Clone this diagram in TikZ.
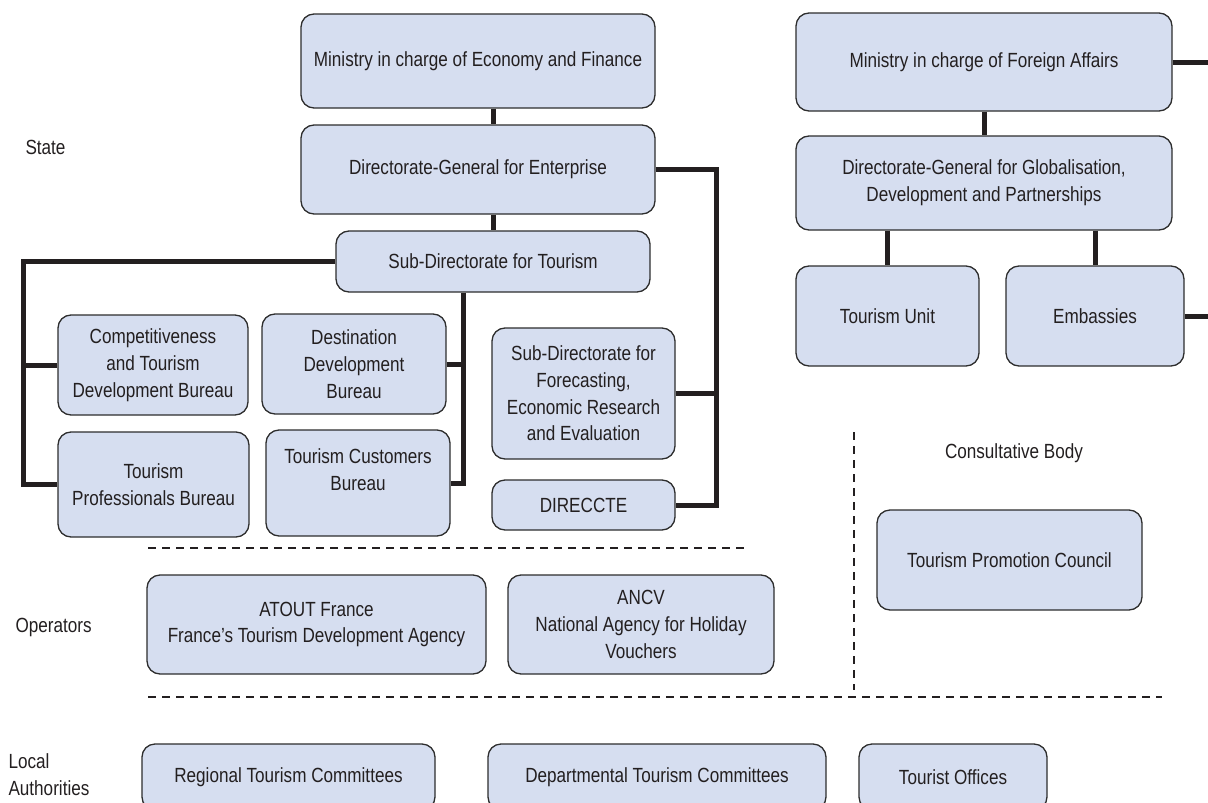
\documentclass[tikz,border=0pt]{standalone}
\usepackage{fontspec}
\setmainfont[FakeStretch=0.835]{Liberation Sans}
\usetikzlibrary{calc}
\definecolor{boxblue}{RGB}{214,222,240}
\definecolor{boxedge}{RGB}{45,45,45}
\definecolor{inkgrey}{RGB}{35,31,32}

\begin{document}
\begin{tikzpicture}[x=1pt,y=-1pt,font=\fontsize{20.5}{26.7}\selectfont,text=inkgrey,
  unit/.style={draw=boxedge,line width=1.3pt,fill=boxblue,rounded corners=13pt,align=center,inner sep=0pt},
  link/.style={line width=5pt,draw=inkgrey},
  sep/.style={line width=2pt,draw=inkgrey,dash pattern=on 8pt off 6pt}]
\clip (0,0) rectangle (1208,803);
% row labels
\node[anchor=west] (lstate) at (22,147) {State};
\node[anchor=west] (lops) at (12,627) {Operators};
\node[anchor=west,align=left] (lloc) at (5,775) {Local\\Authorities};
\node (lcons) at (1014,453) {Consultative Body};
% economy side
\node[unit,minimum width=354,minimum height=94] (econ) at (478,61) {Ministry in charge of Economy and Finance};
\node[unit,minimum width=354,minimum height=89] (dge) at (478,169.5) {Directorate-General for Enterprise};
\node[unit,minimum width=314,minimum height=61] (sdt) at (493,261.5) {Sub-Directorate for Tourism};
\node[unit,minimum width=190,minimum height=100] (comp) at (153,365) {Competitiveness\\and Tourism\\Development Bureau};
\node[unit,minimum width=184,minimum height=100] (dest) at (354,364) {Destination\\Development\\Bureau};
\node[unit,minimum width=191,minimum height=105] (prof) at (153.5,484.5) {Tourism\\Professionals Bureau};
\node[unit,minimum width=184,minimum height=106] (cust) at (358,483) {Tourism Customers\\Bureau\\\mbox{}};
\node[unit,minimum width=183,minimum height=131] (fore) at (583.5,393.5) {Sub-Directorate for\\Forecasting,\\Economic Research\\and Evaluation};
\node[unit,minimum width=183,minimum height=50] (dir) at (583.5,505) {DIRECCTE};
% foreign affairs side
\node[unit,minimum width=376,minimum height=98] (fam) at (984,62) {Ministry in charge of Foreign Affairs};
\node[unit,minimum width=376,minimum height=94] (dgg) at (984,183) {Directorate-General for Globalisation,\\Development and Partnerships};
\node[unit,minimum width=183,minimum height=100] (tu) at (887.5,316) {Tourism Unit};
\node[unit,minimum width=178,minimum height=100] (emb) at (1095,316) {Embassies};
\node[unit,minimum width=265,minimum height=100] (tpc) at (1009.5,560) {Tourism Promotion Council};
% operators
\node[unit,minimum width=339,minimum height=99] (atout) at (316.5,624.5) {ATOUT France\\France's Tourism Development Agency};
\node[unit,minimum width=266,minimum height=99] (ancv) at (641,624.5) {ANCV\\National Agency for Holiday\\Vouchers};
% local authorities
\node[unit,minimum width=293,minimum height=66] (reg) at (288.5,777) {Regional Tourism Committees};
\node[unit,minimum width=338,minimum height=66] (dep) at (657,777) {Departmental Tourism Committees};
\node[unit,minimum width=188,minimum height=66] (tof) at (953,777) {Tourist Offices};

% buses
\coordinate (lbus) at (23,0);
\coordinate (cbus) at (463,0);
\coordinate (rbus) at (716,0);
\coordinate (famend) at (1212,62);
\coordinate (embend) at (1212,316);

\draw[link] (econ.south -| sdt.north) -- (dge.north -| sdt.north);
\draw[link] (dge.south -| sdt.north) -- (sdt.north);
\draw[link] (sdt.west) -| (lbus |- prof.west) -- (prof.west);
\draw[link] (comp.west) -- (lbus |- comp.west);
\draw[link] (sdt.south -| cbus) -- (cbus |- cust.east) -- (cust.east);
\draw[link] (dest.east) -- (cbus |- dest.east);
\draw[link] (dge.east) -| (rbus |- dir.east) -- (dir.east);
\draw[link] (fore.east) -- (rbus |- fore.east);
\draw[link] (fam.east) -- (famend);
\draw[link] (fam.south) -- (dgg.north);
\draw[link] (dgg.south -| tu.north) -- (tu.north);
\draw[link] (dgg.south -| emb.north) -- (emb.north);
\draw[link] (emb.east) -- (embend);

% separators
\coordinate (s1a) at (148,548);
\coordinate (s1b) at (745,548);
\coordinate (s2a) at (148,697);
\coordinate (s2b) at (1162,697);
\coordinate (s3a) at (854,432);
\coordinate (s3b) at (854,690);
\draw[sep] (s1a) -- (s1b);
\draw[sep] (s2a) -- (s2b);
\draw[sep] (s3a) -- (s3b);
\end{tikzpicture}
\end{document}
